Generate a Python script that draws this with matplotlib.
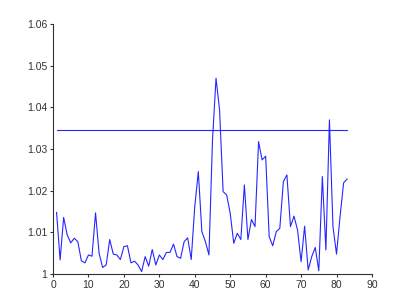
import numpy as np
import matplotlib
matplotlib.use("Agg")
import matplotlib.pyplot as plt

plt.rcParams["font.family"] = ["Liberation Sans", "DejaVu Sans"]

x = list(range(1, 84))
y = [1.0148, 1.0034, 1.0136, 1.0094, 1.0075, 1.0086, 1.0078, 1.0032, 1.0027, 1.0046,
     1.0043, 1.0147, 1.0050, 1.0016, 1.0022, 1.0083, 1.0048, 1.0046, 1.0035, 1.0066,
     1.0068, 1.0027, 1.0031, 1.0022, 1.0006, 1.0042, 1.0019, 1.0059, 1.0022, 1.0046,
     1.0035, 1.0052, 1.0052, 1.0072, 1.0042, 1.0038, 1.0078, 1.0087, 1.0035, 1.0162,
     1.0246, 1.0102, 1.0078, 1.0046, 1.0322, 1.0470, 1.0394, 1.0198, 1.0190, 1.0146,
     1.0074, 1.0098, 1.0083, 1.0214, 1.0083, 1.0131, 1.0114, 1.0318, 1.0274, 1.0283,
     1.0090, 1.0068, 1.0102, 1.0110, 1.0222, 1.0238, 1.0114, 1.0139, 1.0106, 1.0030,
     1.0115, 1.0010, 1.0042, 1.0064, 1.0008, 1.0234, 1.0058, 1.0370, 1.0114, 1.0048,
     1.0138, 1.0219, 1.0228]
threshold = 1.0345
hx = [1, 83]

xticks = list(range(0, 91, 10))
yticks = [1.0, 1.01, 1.02, 1.03, 1.04, 1.05, 1.06]
yticklabels = ["1", "1.01", "1.02", "1.03", "1.04", "1.05", "1.06"]

fig = plt.figure(figsize=(4.11, 3.08), dpi=100)
ax = fig.add_axes([0.129, 0.110, 0.776, 0.812])
ax.plot(x, y, color="#0000ff", lw=0.8, alpha=0.85)
ax.plot(hx, [threshold, threshold], color="#0000ff", lw=0.8, alpha=0.85)
ax.set_xlim(0, 90)
ax.set_ylim(1.0, 1.06)
ax.set_xticks(xticks)
ax.set_yticks(yticks)
ax.set_yticklabels(yticklabels)
for s in ["top", "right"]:
    ax.spines[s].set_visible(False)
for s in ["left", "bottom"]:
    ax.spines[s].set_color("#333333")
    ax.spines[s].set_linewidth(0.8)
ax.tick_params(direction="out", length=2.5, width=0.8, colors="#333333",
               labelsize=7.5, pad=1.5)
fig.savefig("out.png", dpi=100)
